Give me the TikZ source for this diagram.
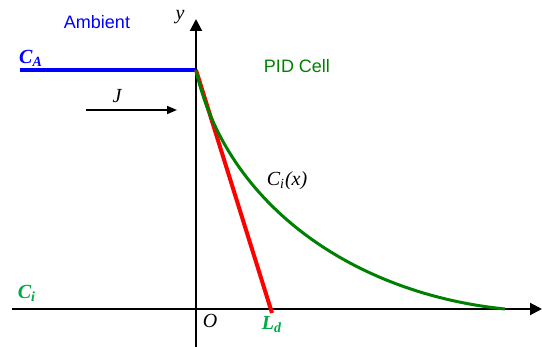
\documentclass[tikz,border=0pt]{standalone}
\usepackage{fontspec}
\setmainfont{Liberation Serif}
\setsansfont{Liberation Sans}
\definecolor{AmbientBlue}{RGB}{0,0,255}
\definecolor{CellGreen}{RGB}{0,128,0}
\definecolor{LabelGreen}{RGB}{0,170,70}
\definecolor{TangentRed}{RGB}{255,0,0}
\usetikzlibrary{arrows.meta, positioning}

\begin{document}
\begin{tikzpicture}[x=0.5pt, y=-0.5pt,
    axis/.style={line width=1pt, -{Triangle[length=6pt,width=6pt]}},
    sym/.style={inner sep=1pt, font=\fontsize{10}{12}\selectfont\itshape},
    region/.style={inner sep=1pt, font=\sffamily\fontsize{9}{11}\selectfont}]
  \useasboundingbox (0,0) rectangle (542,347);
  % axes
  \coordinate (O) at (196,309);
  \coordinate (xstart) at (12,309);
  \coordinate (xend) at (542,309);
  \coordinate (ystart) at (196,347);
  \coordinate (yend) at (196,19);
  \draw[axis] (xstart) -- (xend);
  \draw[axis] (ystart) -- (yend);
  % ambient level
  \coordinate (Astart) at (20,70);
  \coordinate (surface) at (196,70);
  \draw[AmbientBlue, line width=2pt] (Astart) -- (surface);
  % flux
  \coordinate (Jstart) at (86,110);
  \coordinate (Jend) at (177,110);
  \draw[line width=0.75pt, -{Triangle[length=5pt,width=4pt]}] (Jstart) -- (Jend);
  % tangent and profile
  \coordinate (Ld) at (272,313);
  \coordinate (Cend) at (505,309);
  \draw[TangentRed, line width=2pt] (surface) -- (Ld);
  \draw[CellGreen, line width=1.5pt] (surface) .. controls (226.4,206.6) and (355.8,294) .. (Cend);
  % labels
  \node[region, text=AmbientBlue] (ambient) at (97,22) {Ambient};
  \node[region, text=CellGreen] (pid) at (297,66) {PID Cell};
  \node[sym, text=AmbientBlue] (CA) at (31,58) {\bfseries C\textsubscript{A}};
  \node[sym, text=LabelGreen] (Ci) at (27,293) {\bfseries C\textsubscript{i}};
  \node[sym] (ylab) at (180,17) {y};
  \node[sym] (Jlab) at (117,96) {J};
  \node[sym] (Cix) at (287,181) {C\textsubscript{i}(x)};
  \node[sym] (Olab) at (210,321) {O};
  \node[sym, text=LabelGreen] (Ldlab) at (272,325) {\bfseries L\textsubscript{d}};
\end{tikzpicture}
\end{document}
